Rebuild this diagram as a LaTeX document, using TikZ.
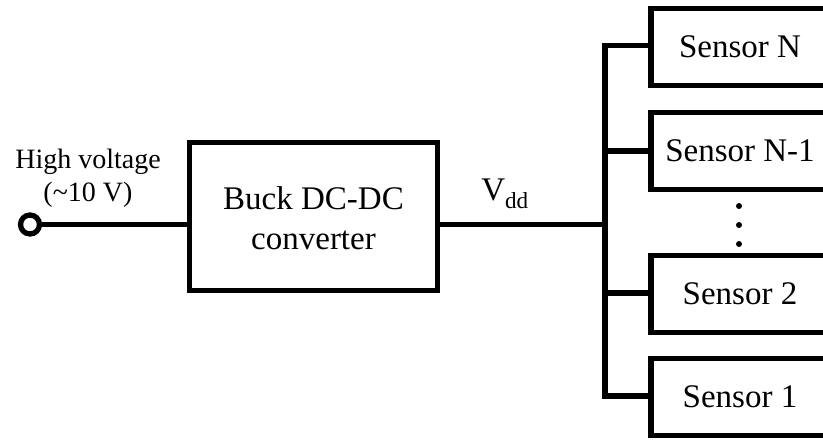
\documentclass[tikz,border=0pt]{standalone}
\usepackage{fontspec}
\setmainfont{Liberation Serif}
\begin{document}
\begin{tikzpicture}[x=1pt,y=-1pt,
  wire/.style={line width=5.3pt},
  blk/.style={draw,line width=5.3pt,rectangle,inner sep=0pt,font=\fontsize{33}{40}\selectfont,align=center},
  sensorbox/.style={blk,minimum width=178pt,minimum height=77pt}]
\useasboundingbox (0,0) rectangle (823,441);

% input terminal
\node[draw,circle,line width=5.3pt,minimum size=19pt,inner sep=0pt] (vin) at (30,224.5) {};
\node[font=\fontsize{28}{33}\selectfont,align=center] (vinlbl) at (88,178) {High voltage\\(\char`\~10 V)};

% converter
\node[blk,minimum width=248pt,minimum height=148pt] (buck) at (313.5,216.5) {};
\node[font=\fontsize{33}{40}\selectfont,align=center] (bucklbl) at (313.5,218) {Buck DC-DC\\converter};
\draw[wire] (vin) -- (vin -| buck.west);

% supply bus
\coordinate (bj) at (605,224.5);
\coordinate (btop) at (605,45.5);
\coordinate (bbot) at (605,396);
\draw[wire] (buck.east |- bj) -- (bj);
\node[font=\fontsize{33}{40}\selectfont] (vdd) at (505,194) {V\textsubscript{dd}};
\draw[wire,line cap=rect] (btop) -- (bbot);

% loads
\node[sensorbox] (s4) at (740,47) {Sensor N};
\node[sensorbox] (s3) at (740,151) {Sensor N-1};
\node[sensorbox] (s2) at (740,294) {Sensor 2};
\node[sensorbox] (s1) at (740,397) {Sensor 1};

\draw[wire] (btop) -- (btop -| s4.west);
\draw[wire] (605,151) -- (s3.west);
\draw[wire] (605,293) -- (605,293 -| s2.west);
\draw[wire] (bbot) -- (bbot -| s1.west);

% ellipsis between the middle sensors
\foreach \yy/\nm in {206/d1,225/d2,244/d3}
  \fill (739,\yy) circle (3pt) coordinate (\nm);
\end{tikzpicture}
\end{document}
